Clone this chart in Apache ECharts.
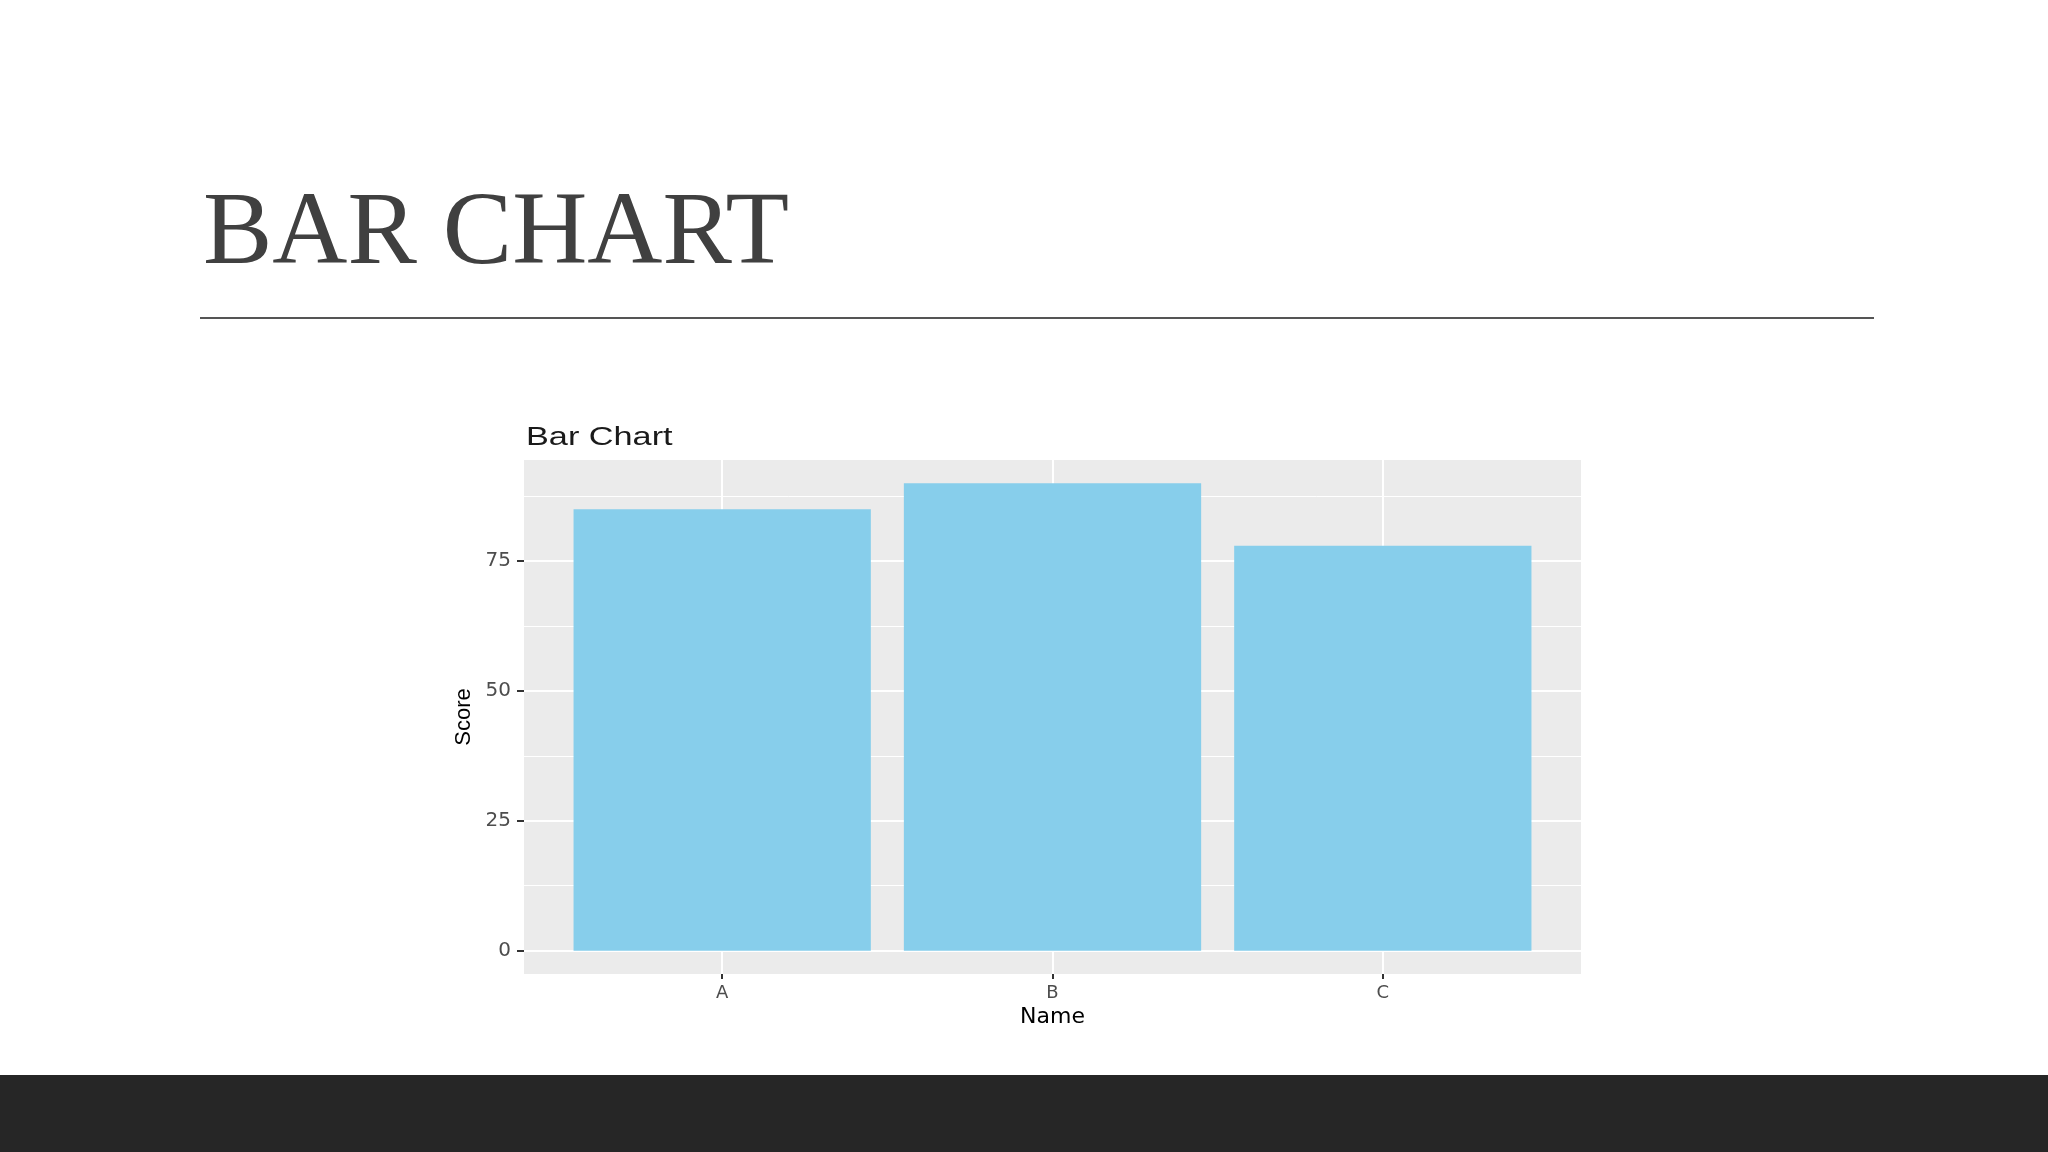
<!DOCTYPE html>
<html><head><meta charset="utf-8">
<script src="https://cdn.jsdelivr.net/npm/echarts@6/dist/echarts.min.js"></script>
<style>html,body{margin:0;padding:0;background:#fff}#c{width:2048px;height:1152px}</style>
</head><body><div id="c"></div>
<script>
const categories = ['A', 'B', 'C'];
const scores = [85, 90, 78];
const yMajorTicks = [0, 25, 50, 75];
const yMinorTicks = [12.5, 37.5, 62.5, 87.5];
const slideTitle = 'BAR CHART';
const chartTitle = 'Bar Chart';
const xName = 'Name';
const yName = 'Score';

const xPositions = categories.map((c, i) => i + 1);
const chart = echarts.init(document.getElementById('c'), null, { renderer: 'canvas' });
const option = {
  animation: false,
  backgroundColor: '#ffffff',
  grid: { left: 524, top: 460, width: 1057, height: 514, show: true, backgroundColor: '#EBEBEB', borderWidth: 0 },
  xAxis: {
    type: 'value', min: 0.4, max: 3.6,
    name: xName, nameLocation: 'middle', nameGap: 32,
    nameTextStyle: { fontFamily: 'DejaVu Sans', fontSize: 22, color: '#000' },
    axisLine: { show: false, onZero: false },
    axisTick: { show: true, customValues: xPositions, length: 5, lineStyle: { color: '#333', width: 2 } },
    axisLabel: { customValues: xPositions, formatter: v => categories[Math.round(v) - 1] || '', margin: 10,
      fontFamily: 'DejaVu Sans', fontSize: 18, color: '#4D4D4D' },
    splitLine: { show: true, lineStyle: { color: '#ffffff', width: 2 } }
  },
  yAxis: [{
    type: 'value', min: -4.5, max: 94.5, position: 'left',
    name: yName, nameLocation: 'middle', nameGap: 47,
    nameTextStyle: { fontFamily: 'Liberation Sans', fontSize: 22, color: '#000' },
    axisLine: { show: false, onZero: false },
    axisTick: { show: true, customValues: yMajorTicks, length: 7, lineStyle: { color: '#333', width: 2 } },
    axisLabel: { customValues: yMajorTicks, margin: 13, fontFamily: 'DejaVu Sans', fontSize: 20, color: '#4D4D4D' },
    splitLine: { show: true, lineStyle: { color: '#ffffff', width: 2 } }
  }, {
    type: 'value', min: -4.5, max: 94.5, position: 'left',
    axisLine: { show: false, onZero: false },
    axisTick: { show: false, customValues: yMinorTicks },
    axisLabel: { show: false, customValues: yMinorTicks },
    splitLine: { show: true, lineStyle: { color: '#ffffff', width: 1 } }
  }],
  series: [{
    type: 'bar', yAxisIndex: 0,
    data: scores.map((s, i) => [xPositions[i], s]),
    barWidth: '90%',
    itemStyle: { color: '#87CEEB' }
  }],
  graphic: [
    { type: 'text', x: 203, y: 236, style: { text: slideTitle, font: '104px "Liberation Serif"', fill: '#404040', verticalAlign: 'middle' } },
    { type: 'line', shape: { x1: 200, y1: 318, x2: 1874, y2: 318 }, style: { stroke: '#555555', lineWidth: 2 } },
    { type: 'text', x: 526, y: 438, scaleX: 1.37, style: { text: chartTitle, font: '25px "Liberation Sans"', fill: '#1a1a1a', verticalAlign: 'middle' } },
    { type: 'rect', shape: { x: 0, y: 1075, width: 2048, height: 77 }, style: { fill: '#262626' } }
  ]
};
chart.setOption(option);
</script>
</body></html>
